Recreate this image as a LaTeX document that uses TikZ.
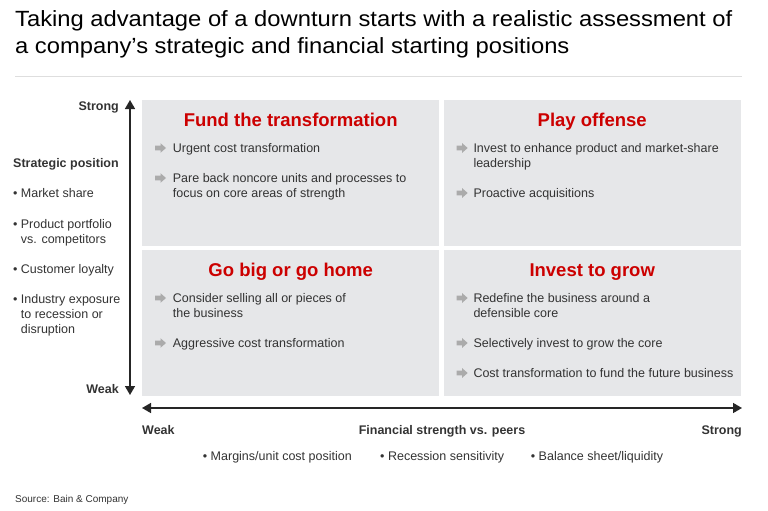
\documentclass[tikz,border=0pt]{standalone}
\usepackage{fontspec}
\setmainfont{Liberation Sans}
\newfontfamily\titlefont[FakeStretch=1.08]{Liberation Sans}
\usetikzlibrary{positioning,arrows.meta}
\definecolor{boxgray}{HTML}{E6E7E9}
\definecolor{bainred}{HTML}{CC0000}
\definecolor{txtgray}{HTML}{333333}
\definecolor{arrgray}{HTML}{ABABAB}
\definecolor{rulegray}{HTML}{DEDEDE}

\begin{document}
\begin{tikzpicture}[x=1pt, y=-1pt, >={Triangle[width=10pt,length=9pt]},
    quad/.style={fill=boxgray, minimum width=297pt, minimum height=146pt, anchor=north west, inner sep=0pt},
    qtitle/.style={text=bainred, font=\fontsize{18.5}{20}\selectfont\bfseries, anchor=base, inner sep=0pt},
    item/.style={text=txtgray, font=\fontsize{12.5}{15}\selectfont, align=left, anchor=base west, inner sep=0pt},
    axlabel/.style={text=txtgray, font=\fontsize{12.5}{15}\selectfont\bfseries, inner sep=0pt},
    axis/.style={<->, line width=1.5pt, black!85},
    bul/.pic={\fill[arrgray] (0,-2.3) -- (5.5,-2.3) -- (5.5,-4.8) -- (11,0) -- (5.5,4.8) -- (5.5,2.3) -- (0,2.3) -- cycle;}]
  \useasboundingbox (0,0) rectangle (768,511);

  % title (base = last line)
  \node[anchor=base west, inner sep=0pt, align=left, text=black,
        font=\titlefont\fontsize{22}{26.5}\selectfont] (title) at (15,53.2)
    {Taking advantage of a downturn starts with a realistic assessment of\\
     a company’s strategic and financial starting positions};
  \draw[rulegray] (15,76) -- (742,76);

  % quadrants
  \node[quad] (tl) at (142,100) {};
  \node[quad] (tr) at (443.5,100) {};
  \node[quad] (bl) at (142,249.5) {};
  \node[quad] (br) at (443.5,249.5) {};

  \node[qtitle] (tlt) at ([yshift=-26pt]tl.north) {Fund the transformation};
  \node[qtitle] (trt) at ([yshift=-26pt]tr.north) {Play offense};
  \node[qtitle] (blt) at ([yshift=-26.5pt]bl.north) {Go big or go home};
  \node[qtitle] (brt) at ([yshift=-26.5pt]br.north) {Invest to grow};

  % items (base = last line)
  \pic at (155,148) {bul};
  \node[item] (tl1) at (172.7,152.5) {Urgent cost transformation};
  \pic at (155,178) {bul};
  \node[item] (tl2) at (172.7,197.5) {Pare back noncore units and processes to\\focus on core areas of strength};

  \pic at (456.7,148) {bul};
  \node[item] (tr1) at (473.3,167.5) {Invest to enhance product and market-share\\leadership};
  \pic at (456.7,193) {bul};
  \node[item] (tr2) at (473.3,197.5) {Proactive acquisitions};

  \pic at (155,298) {bul};
  \node[item] (bl1) at (172.7,317.5) {Consider selling all or pieces of\\the business};
  \pic at (155,343) {bul};
  \node[item] (bl2) at (172.7,347.5) {Aggressive cost transformation};

  \pic at (456.7,298) {bul};
  \node[item] (br1) at (473.3,317.5) {Redefine the business around a\\defensible core};
  \pic at (456.7,343) {bul};
  \node[item] (br2) at (473.3,347.5) {Selectively invest to grow the core};
  \pic at (456.7,373) {bul};
  \node[item] (br3) at (473.3,377.5) {Cost transformation to fund the future business};

  % strategic axis
  \node[axlabel, anchor=base east] (vstrong) at (119,110) {Strong};
  \node[axlabel, anchor=base east] (vweak) at (119,393.5) {Weak};
  \coordinate (vtop) at (130,100);
  \coordinate (vbot) at (130,395);
  \draw[axis] (vtop) -- (vbot);

  \node[axlabel, anchor=base west] (spos) at (13,167.5) {Strategic position};
  \node[item] (s1) at (20.7,197.5) {\llap{\textbullet\ }Market share};
  \node[item] (s2) at (20.7,243) {\llap{\textbullet\ }Product portfolio\\vs. competitors};
  \node[item] (s3) at (20.7,273.5) {\llap{\textbullet\ }Customer loyalty};
  \node[item] (s4) at (20.7,333.5) {\llap{\textbullet\ }Industry exposure\\to recession or\\disruption};

  % financial axis
  \coordinate (hleft) at (142,408);
  \coordinate (hright) at (742,408);
  \draw[axis] (hleft) -- (hright);
  \node[axlabel, anchor=base west] (hweak) at (142,434.5) {Weak};
  \node[axlabel, anchor=base] (hlab) at (442,434.5) {Financial strength vs. peers};
  \node[axlabel, anchor=base east] (hstrong) at (742,434.5) {Strong};
  \node[item] (f1) at (202.7,460) {\textbullet\ Margins/unit cost position};
  \node[item] (f2) at (380,460) {\textbullet\ Recession sensitivity};
  \node[item] (f3) at (530.7,460) {\textbullet\ Balance sheet/liquidity};

  \node[anchor=base west, inner sep=0pt, text=txtgray, font=\fontsize{10}{12}\selectfont]
    (src) at (15,502.5) {Source: Bain \& Company};
\end{tikzpicture}
\end{document}
